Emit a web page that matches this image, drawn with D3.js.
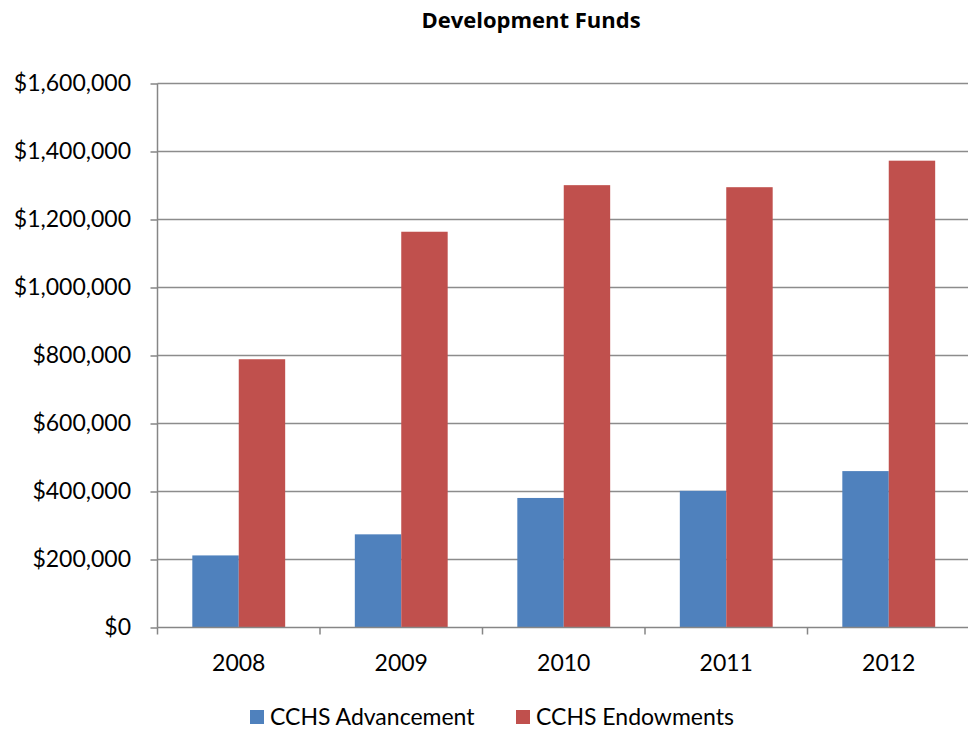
<!DOCTYPE html>
<html><head><meta charset="utf-8">
<script src="https://cdn.jsdelivr.net/npm/d3@7"></script>
<style>body{margin:0;background:#fff}svg{display:block}text{font-family:Lato,"Open Sans",sans-serif;fill:#000}</style>
</head><body>
<svg id="c" width="968" height="729"></svg>
<script>
const title = "Development Funds";
const categories = ["2008","2009","2010","2011","2012"];
const seriesNames = ["CCHS Advancement","CCHS Endowments"];
const advancement = [212000, 274000, 381000, 402000, 460000];
const endowments = [789000, 1164000, 1301000, 1295000, 1373000];
const yTicks = [0,200000,400000,600000,800000,1000000,1200000,1400000,1600000];
const colors = ["#4F81BD","#C0504D"];

(function(){
const svg = d3.select("#c");
const pL = 157.5, pR = 970, pT = 83.5, pB = 627.5;
const x = d3.scaleBand().domain(categories).range([pL, pR]);
const y = d3.scaleLinear().domain([0,1600000]).range([pB, pT]);
const fmt = v => "$" + d3.format(",")(v);

// gridlines
svg.append("g").selectAll("line").data(yTicks.slice(1)).join("line")
  .attr("x1", pL).attr("x2", pR)
  .attr("y1", d=>y(d)).attr("y2", d=>y(d))
  .attr("stroke","#8c8c8c").attr("stroke-width",1.5);

// bars
const bw = x.bandwidth()/3.5;
const series = [advancement, endowments];
series.forEach((vals, si) => {
  svg.append("g").selectAll("rect").data(vals).join("rect")
    .attr("x", (d,i)=> x(categories[i]) + x.bandwidth()/2 - bw + si*bw)
    .attr("width", bw)
    .attr("y", d=>y(d))
    .attr("height", d=>y(0)-y(d))
    .attr("fill", colors[si]);
});

// y axis
const ya = svg.append("g").attr("transform",`translate(${pL},0)`)
  .call(d3.axisLeft(y).tickValues(yTicks).tickFormat(fmt).tickSize(7).tickPadding(19.5));
ya.select(".domain").attr("stroke","#868686").attr("stroke-width",1.5).attr("d",`M-0,${pT}V${pB}`);
ya.selectAll(".tick line").attr("stroke","#868686").attr("stroke-width",1.5);
ya.selectAll(".tick text").style("font-size","23px").style("font-family","Lato").attr("fill","#000");

// x axis
const xa = svg.append("g").attr("transform",`translate(0,${pB})`);
xa.append("line").attr("x1",pL).attr("x2",pR).attr("stroke","#868686").attr("stroke-width",1.5);
const bounds = categories.map(c=>x(c)).concat([pR]);
xa.selectAll(".xt").data(bounds).join("line").attr("class","xt")
  .attr("x1",d=>d).attr("x2",d=>d).attr("y1",0).attr("y2",7)
  .attr("stroke","#868686").attr("stroke-width",1.5);
xa.selectAll("text").data(categories).join("text")
  .attr("x", d=>x(d)+x.bandwidth()/2).attr("y", 43)
  .attr("text-anchor","middle").style("font-size","23px").text(d=>d);

// title
svg.append("text").attr("x",531).attr("y",28).attr("text-anchor","middle")
  .style("font-family","'Open Sans'").style("font-size","22px").style("font-weight","bold").text(title);

// legend
const legX = [250, 516];
seriesNames.forEach((n,i)=>{
  svg.append("rect").attr("x",legX[i]).attr("y",710).attr("width",14).attr("height",14).attr("fill",colors[i]);
  svg.append("text").attr("x",legX[i]+20).attr("y",725).style("font-size","23px").text(n);
});
})();
</script>
</body></html>
